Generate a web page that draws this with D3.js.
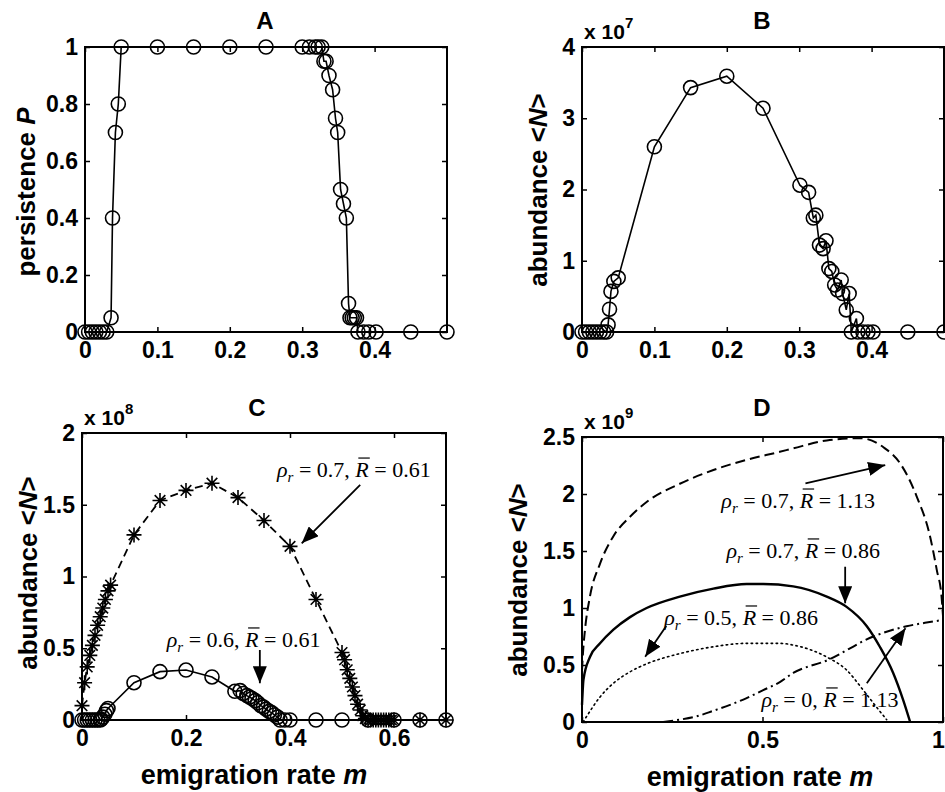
<!DOCTYPE html>
<html>
<head>
<meta charset="utf-8">
<script src="https://cdnjs.cloudflare.com/ajax/libs/d3/7.8.5/d3.min.js"></script>
<style>
  body { margin: 0; background: #fff; }
  svg text { font-family: "Liberation Sans", Arial, sans-serif; font-weight: bold; fill: #000; }
  svg text.ann { font-family: "Liberation Serif", "Times New Roman", serif; font-weight: normal; font-size: 22px; }
  .tick line { stroke: #000; stroke-width: 1.5; }
  .tick text { font-size: 23px; }
</style>
</head>
<body>
<div id="chart"></div>
<script>
// ---- data ----
// A: persistence vs emigration rate
var aM = [0, 0.005, 0.01, 0.015, 0.02, 0.025, 0.03, 0.036, 0.038, 0.042, 0.046, 0.05,
  0.1, 0.15, 0.2, 0.25, 0.3, 0.31, 0.318, 0.322, 0.327, 0.33, 0.333, 0.337, 0.342,
  0.346, 0.349, 0.353, 0.357, 0.361, 0.364, 0.366, 0.369, 0.372, 0.375, 0.377,
  0.385, 0.392, 0.402, 0.45, 0.5];
var aP = [0, 0, 0, 0, 0, 0, 0, 0.05, 0.4, 0.7, 0.8, 1,
  1, 1, 1, 1, 1, 1, 1, 1, 1, 0.95, 0.95, 0.9, 0.85,
  0.75, 0.7, 0.5, 0.45, 0.4, 0.1, 0.05, 0.05, 0.05, 0.05, 0,
  0, 0, 0, 0, 0];

// B: abundance (x 10^7)
var bM = [0, 0.005, 0.01, 0.015, 0.02, 0.025, 0.03, 0.034, 0.036, 0.038, 0.04, 0.044, 0.05,
  0.1, 0.15, 0.2, 0.25, 0.301, 0.313, 0.3195, 0.323, 0.328, 0.333, 0.337, 0.341, 0.345,
  0.349, 0.353, 0.358, 0.36, 0.365, 0.369, 0.372, 0.379, 0.381, 0.388, 0.395, 0.402, 0.45, 0.5];
var bN = [0, 0, 0, 0, 0, 0, 0, 0, 0.1, 0.32, 0.57, 0.71, 0.76,
  2.6, 3.43, 3.59, 3.14, 2.06, 1.96, 1.6, 1.64, 1.22, 1.17, 1.28, 0.89, 0.85,
  0.66, 0.59, 0.73, 0.54, 0.31, 0.54, 0, 0.19, 0, 0, 0, 0, 0, 0];

// C: abundance (x 10^8), circles: rho=0.6, stars: rho=0.7
var cCircM = [0, 0.005, 0.01, 0.015, 0.02, 0.025, 0.03, 0.035, 0.037, 0.04, 0.044, 0.047, 0.05,
  0.1, 0.15, 0.2, 0.25, 0.294, 0.304, 0.31, 0.317, 0.322, 0.327, 0.333, 0.338, 0.344,
  0.349, 0.354, 0.36, 0.365, 0.37, 0.376, 0.381, 0.39, 0.4, 0.45, 0.5, 0.55, 0.6, 0.65, 0.7];
var cCircN = [0, 0, 0, 0, 0, 0, 0, 0, 0.005, 0.02, 0.04, 0.065, 0.08,
  0.26, 0.337, 0.348, 0.3, 0.2, 0.205, 0.185, 0.17, 0.16, 0.15, 0.135, 0.12, 0.1,
  0.09, 0.075, 0.06, 0.05, 0.035, 0.02, 0, 0, 0, 0, 0, 0, 0, 0, 0];
var cStarM = [0, 0.005, 0.01, 0.015, 0.02, 0.025, 0.03, 0.035, 0.04, 0.045, 0.05, 0.055,
  0.1, 0.15, 0.2, 0.25, 0.3, 0.35, 0.4, 0.45,
  0.5, 0.505, 0.51, 0.515, 0.52, 0.525, 0.53, 0.535, 0.54, 0.545,
  0.55, 0.555, 0.56, 0.565, 0.57, 0.575, 0.58, 0.585, 0.59, 0.595, 0.6, 0.65, 0.7];
var cStarN = [0.1, 0.26, 0.37, 0.45, 0.52, 0.59, 0.66, 0.72, 0.78, 0.84, 0.9, 0.94,
  1.29, 1.53, 1.6, 1.65, 1.55, 1.39, 1.21, 0.84,
  0.47, 0.42, 0.35, 0.29, 0.23, 0.17, 0.11, 0.07, 0.03, 0.01,
  0, 0, 0, 0, 0, 0, 0, 0, 0, 0, 0, 0, 0];

// D: abundance (x 10^9), four curves
var dDashM = [0, 0.003, 0.008, 0.022, 0.05, 0.087, 0.133, 0.179, 0.271, 0.364, 0.456, 0.548,
  0.585, 0.678, 0.77, 0.835, 0.881, 0.927, 0.964, 0.983, 0.996, 1.0];
var dDashN = [0.45, 0.62, 0.8, 1.1, 1.39, 1.63, 1.8, 1.93, 2.09, 2.21, 2.3, 2.37,
  2.4, 2.47, 2.49, 2.41, 2.27, 1.98, 1.63, 1.33, 1.1, 0.93];
var dSolidM = [0, 0.002, 0.004, 0.022, 0.05, 0.087, 0.133, 0.179, 0.271, 0.364, 0.456, 0.502,
  0.585, 0.678, 0.733, 0.789, 0.825, 0.862, 0.89, 0.909];
var dSolidN = [0.15, 0.28, 0.37, 0.57, 0.69, 0.81, 0.92, 1.0, 1.1, 1.17, 1.21, 1.21,
  1.19, 1.1, 1.01, 0.84, 0.66, 0.43, 0.19, 0];
var dDotM = [0.003, 0.013, 0.05, 0.087, 0.133, 0.179, 0.271, 0.364, 0.456, 0.548, 0.585,
  0.678, 0.733, 0.779, 0.816, 0.844];
var dDotN = [0, 0.05, 0.22, 0.34, 0.44, 0.51, 0.6, 0.66, 0.69, 0.69, 0.675,
  0.57, 0.456, 0.28, 0.13, 0.02];
var dDashDotM = [0.225, 0.27, 0.318, 0.365, 0.41, 0.456, 0.502, 0.548, 0.585, 0.678, 0.807, 0.899, 0.95, 1.0];
var dDashDotN = [0, 0.02, 0.05, 0.1, 0.15, 0.21, 0.28, 0.35, 0.43, 0.54, 0.75, 0.84, 0.87, 0.895];

// tick values
var abXTicks = [0, 0.1, 0.2, 0.3, 0.4];
var aYTicks = [0, 0.2, 0.4, 0.6, 0.8, 1];
var bYTicks = [0, 1, 2, 3, 4];
var cXTicks = [0, 0.2, 0.4, 0.6];
var cYTicks = [0, 0.5, 1, 1.5, 2];
var dXTicks = [0, 0.5, 1];
var dYTicks = [0, 0.5, 1, 1.5, 2, 2.5];

// annotations: [rho, Rbar, text m, text N, arrow from m,N, arrow to m,N]
var cNotes = [
  ["0.7", "0.61", 0.375, 1.693, 0.535, 1.638, 0.4225, 1.231],
  ["0.6", "0.61", 0.163, 0.509, 0.342, 0.488, 0.342, 0.256]
];
var dNotes = [
  ["0.7", "1.13", 0.386, 1.877, 0.619, 2.094, 0.84, 2.254],
  ["0.7", "0.86", 0.4, 1.439, 0.729, 1.362, 0.729, 1.041],
  ["0.5", "0.86", 0.228, 0.851, 0.2335, 0.842, 0.175, 0.573],
  ["0", "1.13", 0.497, 0.132, 0.789, 0.339, 0.896, 0.822]
];

var zip = (xs, ys) => xs.map((v, i) => [v, ys[i]]);

var svg = d3.select("#chart").append("svg")
  .attr("width", 945)
  .attr("height", 792);

var defs = svg.append("defs");
defs.append("marker")
  .attr("id", "arrowhead")
  .attr("viewBox", "0 0 17 14")
  .attr("refX", 17)
  .attr("refY", 7)
  .attr("markerWidth", 17)
  .attr("markerHeight", 14)
  .attr("markerUnits", "userSpaceOnUse")
  .attr("orient", "auto")
  .append("path")
  .attr("d", "M0,0L17,7L0,14Z")
  .attr("fill", "#000");

// Draw one MATLAB style panel with a box and inward ticks on all sides.
function makePanel(c) {
  var x = d3.scaleLinear().domain(c.xDomain).range([c.left, c.left + c.width]);
  var y = d3.scaleLinear().domain(c.yDomain).range([c.top + c.height, c.top]);
  var g = svg.append("g");
  var fmt = d => String(d);

  var xAxis = g.append("g")
    .attr("transform", `translate(0,${c.top + c.height})`)
    .call(d3.axisBottom(x).tickValues(c.xTicks).tickSize(-5).tickSizeOuter(0).tickPadding(10).tickFormat(fmt));
  // last label sits on the page edge: keep it inside
  xAxis.selectAll(".tick text")
    .filter(d => x(d) > 935)
    .attr("dx", -5);
  g.append("g")
    .attr("transform", `translate(0,${c.top})`)
    .call(d3.axisTop(x).tickValues(c.xTicks).tickSize(-5).tickSizeOuter(0).tickFormat(""));
  g.append("g")
    .attr("transform", `translate(${c.left},0)`)
    .call(d3.axisLeft(y).tickValues(c.yTicks).tickSize(-5).tickSizeOuter(0).tickPadding(7).tickFormat(fmt));
  g.append("g")
    .attr("transform", `translate(${c.left + c.width},0)`)
    .call(d3.axisRight(y).tickValues(c.yTicks).tickSize(-5).tickSizeOuter(0).tickFormat(""));
  g.selectAll(".domain").remove();

  g.append("rect")
    .attr("x", c.left)
    .attr("y", c.top)
    .attr("width", c.width)
    .attr("height", c.height)
    .attr("fill", "none")
    .attr("stroke", "#000")
    .attr("stroke-width", 2);

  g.append("text")
    .attr("x", c.titleX)
    .attr("y", c.titleY)
    .attr("text-anchor", "middle")
    .attr("dominant-baseline", "central")
    .attr("font-size", 24)
    .text(c.title);

  var yl = g.append("text")
    .attr("transform", `translate(${c.ylabelX},${c.ylabelY}) rotate(-90)`)
    .attr("text-anchor", "middle")
    .attr("dominant-baseline", "central")
    .attr("font-size", 26);
  yl.append("tspan").text(c.ylabel[0]);
  yl.append("tspan").attr("font-style", "italic").text(c.ylabel[1]);
  yl.append("tspan").text(c.ylabel[2]);

  if (c.xlabelY) {
    var xl = g.append("text")
      .attr("x", c.xlabelX)
      .attr("y", c.xlabelY)
      .attr("text-anchor", "middle")
      .attr("dominant-baseline", "central")
      .attr("font-size", 27);
    xl.append("tspan").text("emigration rate ");
    xl.append("tspan").attr("font-style", "italic").text("m");
  }

  if (c.exponent) {
    var ex = g.append("text")
      .attr("x", c.left + 2)
      .attr("y", c.top - 8)
      .attr("font-size", 21);
    ex.append("tspan").text("x 10");
    ex.append("tspan").attr("font-size", 15).attr("dy", -11).text(c.exponent);
  }

  return { g: g, x: x, y: y };
}

function drawLine(p, data, dash, width, curve) {
  var line = d3.line()
    .x(d => p.x(d[0]))
    .y(d => p.y(d[1]))
    .curve(curve || d3.curveLinear);
  p.g.append("path")
    .datum(data)
    .attr("d", line)
    .attr("fill", "none")
    .attr("stroke", "#000")
    .attr("stroke-width", width)
    .attr("stroke-dasharray", dash)
    .attr("stroke-linecap", dash && dash.indexOf("1.5") === 0 ? "round" : "butt");
}

function drawCircles(p, data) {
  p.g.append("g")
    .selectAll("circle")
    .data(data)
    .enter()
    .append("circle")
    .attr("cx", d => p.x(d[0]))
    .attr("cy", d => p.y(d[1]))
    .attr("r", 7)
    .attr("fill", "none")
    .attr("stroke", "#000")
    .attr("stroke-width", 1.6);
}

function drawStars(p, data) {
  var r = 7.5, a = 5.3;
  p.g.append("g")
    .selectAll("path")
    .data(data)
    .enter()
    .append("path")
    .attr("transform", d => `translate(${p.x(d[0])},${p.y(d[1])})`)
    .attr("d", `M${-r},0H${r}M0,${-r}V${r}M${-a},${-a}L${a},${a}M${-a},${a}L${a},${-a}`)
    .attr("stroke", "#000")
    .attr("stroke-width", 1.6);
}

function drawNotes(p, notes) {
  notes.forEach(function(n) {
    var t = p.g.append("text")
      .attr("class", "ann")
      .attr("x", p.x(n[2]))
      .attr("y", p.y(n[3]));
    t.append("tspan").attr("font-style", "italic").text("\u03c1");
    t.append("tspan").attr("font-style", "italic").attr("font-size", 15).attr("dy", 5).text("r");
    t.append("tspan").attr("dy", -5).text(" = " + n[0] + ", ");
    var rt = t.append("tspan").attr("font-style", "italic").text("R");
    t.append("tspan").text(" = " + n[1]);

    var ext = rt.node().getExtentOfChar(0);
    p.g.append("line")
      .attr("x1", ext.x + 3)
      .attr("x2", ext.x + ext.width + 1)
      .attr("y1", ext.y + 1)
      .attr("y2", ext.y + 1)
      .attr("stroke", "#000")
      .attr("stroke-width", 1.2);

    p.g.append("line")
      .attr("x1", p.x(n[4]))
      .attr("y1", p.y(n[5]))
      .attr("x2", p.x(n[6]))
      .attr("y2", p.y(n[7]))
      .attr("stroke", "#000")
      .attr("stroke-width", 1.8)
      .attr("marker-end", "url(#arrowhead)");
  });
}

// Panel A
var pA = makePanel({
  left: 85, top: 47, width: 362, height: 285,
  xDomain: [0, 0.5], yDomain: [0, 1], xTicks: abXTicks, yTicks: aYTicks,
  title: "A", titleX: 265, titleY: 20,
  ylabel: ["persistence ", "P", ""], ylabelX: 26, ylabelY: 192
});
drawLine(pA, zip(aM, aP), null, 1.6);
drawCircles(pA, zip(aM, aP));

// Panel B
var pB = makePanel({
  left: 582, top: 47, width: 362, height: 285,
  xDomain: [0, 0.5], yDomain: [0, 4], xTicks: abXTicks, yTicks: bYTicks,
  title: "B", titleX: 762, titleY: 20, exponent: "7",
  ylabel: ["abundance <", "N", ">"], ylabelX: 538, ylabelY: 190
});
drawLine(pB, zip(bM, bN), null, 1.6);
drawCircles(pB, zip(bM, bN));

// Panel C
var pC = makePanel({
  left: 82, top: 433, width: 364, height: 287,
  xDomain: [0, 0.7], yDomain: [0, 2], xTicks: cXTicks, yTicks: cYTicks,
  title: "C", titleX: 257, titleY: 407, exponent: "8",
  ylabel: ["abundance <", "N", ">"], ylabelX: 28, ylabelY: 573,
  xlabelX: 254, xlabelY: 775
});
drawLine(pC, zip(cStarM, cStarN), "8,5", 1.8);
drawLine(pC, zip(cCircM, cCircN), null, 1.6);
drawStars(pC, zip(cStarM, cStarN));
drawCircles(pC, zip(cCircM, cCircN));
drawNotes(pC, cNotes);

// Panel D
var pD = makePanel({
  left: 582, top: 437, width: 361, height: 285,
  xDomain: [0, 1], yDomain: [0, 2.5], xTicks: dXTicks, yTicks: dYTicks,
  title: "D", titleX: 762, titleY: 407, exponent: "9",
  ylabel: ["abundance <", "N", ">"], ylabelX: 518, ylabelY: 580,
  xlabelX: 760, xlabelY: 777
});
drawLine(pD, zip(dDashM, dDashN), "10,5", 2, d3.curveMonotoneX);
drawLine(pD, zip(dSolidM, dSolidN), null, 2.4, d3.curveMonotoneX);
drawLine(pD, zip(dDotM, dDotN), "1.5,3.5", 1.6, d3.curveMonotoneX);
drawLine(pD, zip(dDashDotM, dDashDotN), "10,4,2,4", 2, d3.curveMonotoneX);
drawNotes(pD, dNotes);
</script>
</body>
</html>
